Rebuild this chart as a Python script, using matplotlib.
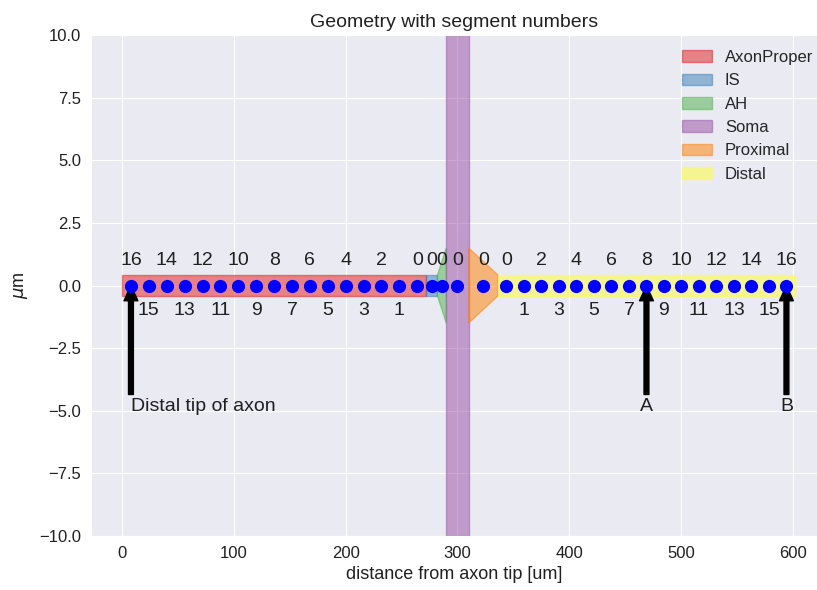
import numpy as np
import matplotlib
matplotlib.use("Agg")
import matplotlib.pyplot as plt
import seaborn as sns

sns.set_style("darkgrid")
plt.rcParams['font.family'] = ['Liberation Sans', 'DejaVu Sans']

# ---- data ----
section_names = ['AxonProper', 'IS', 'AH', 'Soma', 'Proximal', 'Distal']
section_lengths = [272, 10, 8, 20, 26, 266]          # um
diam_start = [0.8, 0.8, 0.8, 20.0, 3.0, 0.85]        # um (left end)
diam_end = [0.8, 0.8, 3.0, 20.0, 0.85, 0.85]         # um (right end)
section_nseg = [17, 1, 1, 1, 1, 17]
numbered_from_right = [True, True, True, False, False, False]
section_colors = ['#e41a1c', '#377eb8', '#4daf4a', '#984ea3', '#ff7f00', '#ffff33']

annot_texts = ['Distal tip of axon', 'A', 'B']
annot_section = ['AxonProper', 'Distal', 'Distal']
annot_segment = [16, 8, 16]
annot_ha = ['left', 'center', 'center']

xticks = [0, 100, 200, 300, 400, 500, 600]
yticks = [-10.0, -7.5, -5.0, -2.5, 0.0, 2.5, 5.0, 7.5, 10.0]

TXT = '#202020'

fig = plt.figure(figsize=(8.17, 5.90), dpi=100)
ax = fig.add_axes([0.1114, 0.0915, 0.8886, 0.8492])

starts = np.concatenate([[0], np.cumsum(section_lengths)[:-1]])
seg_centers = {}
for name, x0, L, d0, d1, n, rev, col in zip(section_names, starts, section_lengths,
                                            diam_start, diam_end, section_nseg,
                                            numbered_from_right, section_colors):
    x1 = x0 + L
    ax.fill([x0, x1, x1, x0], [d0 / 2, d1 / 2, -d1 / 2, -d0 / 2],
            color=col, alpha=0.5, label=name, lw=1)
    seg = L / n
    idx = np.arange(n)
    if rev:
        cx = x1 - (idx + 0.5) * seg
    else:
        cx = x0 + (idx + 0.5) * seg
    seg_centers[name] = cx

for name in section_names:
    cx = seg_centers[name]
    ax.plot(cx, np.zeros_like(cx), 'o', color='blue', markersize=9.5, mew=0, zorder=5)
    for i, x in enumerate(cx):
        y = 1.0 if i % 2 == 0 else -1.0
        ax.text(x, y, str(i), ha='center', va='center', fontsize=14, color=TXT, zorder=6)

for txt, sec, segi, ha in zip(annot_texts, annot_section, annot_segment, annot_ha):
    x = seg_centers[sec][segi]
    ax.annotate(txt, xy=(x, 0), xytext=(x, -5.0), ha=ha, va='baseline',
                fontsize=14, color=TXT,
                arrowprops=dict(facecolor='black', edgecolor='black',
                                width=3.5, headwidth=10, headlength=11, shrink=0.0))

ax.set_xlim(-27.7, 621.5)
ax.set_ylim(-10, 10)
ax.set_xticks(xticks)
ax.set_yticks(yticks)
ax.tick_params(labelsize=12, colors=TXT)
ax.set_xlabel('distance from axon tip [um]', fontsize=13, color=TXT)
ax.set_ylabel(r'$\mu$m', fontsize=13, color=TXT, labelpad=7)
ax.set_title('Geometry with segment numbers', fontsize=14, color=TXT)
ax.legend(loc='upper right', bbox_to_anchor=(1.004, 0.9836), fontsize=12,
          frameon=False, borderaxespad=0.0, handlelength=1.75, handletextpad=0.8)

fig.savefig('out.png', dpi=100)
